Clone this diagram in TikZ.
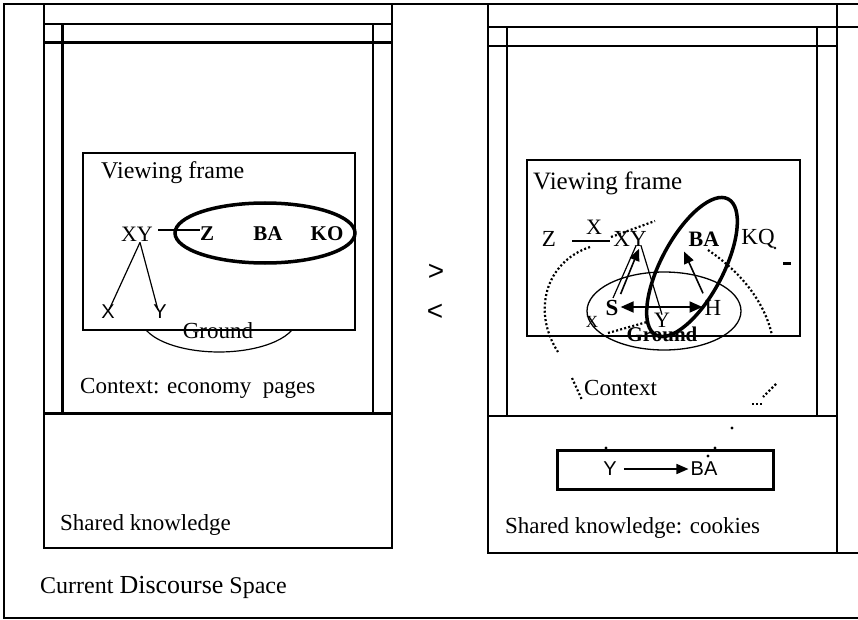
\documentclass[tikz,border=0pt]{standalone}
\usepackage{fontspec}
\setmainfont{Liberation Serif}
\newfontfamily\sansf{Liberation Sans}
\usetikzlibrary{arrows.meta,calc}
\begin{document}
\begin{tikzpicture}[x=1pt,y=-1pt,
  thinl/.style={line width=1.3pt},
  heavy/.style={line width=3pt},
  txt/.style={inner sep=0pt, font=\fontsize{23}{26}\selectfont},
  lab/.style={inner sep=0pt, font=\fontsize{22}{24}\selectfont},
  blab/.style={inner sep=0pt, font=\fontsize{21}{24}\selectfont\bfseries},
  slab/.style={inner sep=0pt, font=\sansf\fontsize{20}{24}\selectfont},
  dots/.style={line width=2.2pt, dash pattern=on 2pt off 2.2pt},
  arr/.style={line width=1.6pt, -{Triangle[length=12pt,width=10pt]}},
  boxn/.style={draw, inner sep=0pt, outer sep=0pt},
]
\useasboundingbox (0,0) rectangle (858,620);
% outer frame
\draw[thinl] (858,4) -- (4,4) -- (4,618) -- (858,618);

% ---------------- left panel
\draw[thinl] (44,4) -- (44,548) -- (392,548) -- (392,4);
\draw[thinl] (44,24) -- (392,24);
\draw[heavy] (44,43) -- (392,43);
\draw[heavy] (62,24) -- (62,413);
\draw[line width=2.5pt] (373,24) -- (373,413);
\draw[heavy] (44,413) -- (392,413);

\node[boxn, line width=1.6pt, minimum width=272pt, minimum height=177pt] (vbox1) at (219,241.5) {};
\node[txt, font=\fontsize{24}{26}\selectfont, anchor=west] (vf1) at (101,173) {Viewing frame};
\node[lab] (xy1) at (137,234) {XY};
\node[blab] (z1) at (207,234) {Z};
\node[blab] (ba1) at (268,234) {BA};
\node[blab] (ko1) at (327,234) {KO};
\draw[line width=3.5pt] (265,233) ellipse [x radius=90, y radius=30];
\draw[line width=1.2pt] ($(xy1.east)+(5,-4)$) -- ($(z1.west)+(0,-4)$);
\node[slab] (x1) at (108,312) {X};
\node[slab] (y1) at (160,312) {Y};
\draw[line width=1.2pt] ($(xy1.south)+(3,1)$) -- ($(x1.north)+(1,5)$);
\draw[line width=1.2pt] ($(xy1.south)+(3,1)$) -- ($(y1.north)+(-2,5)$);
\draw[line width=1.2pt] (292,330) arc[start angle=20.7, end angle=159.3, x radius=78, y radius=34];
\node[txt] (gr1) at (218,331) {Ground};
\node[txt, anchor=west] (ctx1) at (80,388) {Context: economy\ \ pages};
\node[txt, anchor=west] (sk1) at (60,525) {Shared knowledge};
\node[txt, font=\fontsize{24}{26}\selectfont, anchor=west] (cds) at (40,587) {Current {\fontsize{26}{28}\selectfont Discourse} Space};

% ---------------- middle
\node[inner sep=0pt, font=\sansf\fontsize{28}{30}\selectfont] (gt) at (436,272) {>};
\node[inner sep=0pt, font=\sansf\fontsize{28}{30}\selectfont] (lt) at (435,312) {<};

% ---------------- right panel
\draw[thinl] (488,4) -- (488,553) -- (858,553);
\draw[thinl] (837,4) -- (837,553);
\draw[thinl] (488,27) -- (858,27);
\draw[thinl] (488,46) -- (837,46);
\draw[thinl] (507,27) -- (507,416);
\draw[thinl] (817,27) -- (817,416);
\draw[thinl] (488,416) -- (837,416);

\node[boxn, line width=1.6pt, minimum width=273pt, minimum height=176pt] (vbox2) at (663.5,248) {};
\node[txt, font=\fontsize{25}{27}\selectfont, anchor=west] (vf2) at (533,183) {Viewing frame};
\node[lab, font=\fontsize{23}{25}\selectfont] (z2) at (549,239) {Z};
\node[lab] (x2) at (594,227) {X};
\node[lab, font=\fontsize{23}{25}\selectfont] (xy2) at (630,239) {XY};
\node[blab, font=\fontsize{22}{25}\selectfont\bfseries] (ba2) at (704,239) {BA};
\node[lab, font=\fontsize{23}{25}\selectfont] (kq2) at (758,239) {KQ};
\draw[line width=1.2pt] ($(z2.east)+(16,2)$) -- ($(xy2.west)+(-3,2)$);

% ground ellipse
\draw[line width=1.3pt] (664,311) ellipse [x radius=77, y radius=39];
\node[inner sep=0pt, font=\fontsize{23}{25}\selectfont\bfseries] (s2) at (612,308) {S};
\node[lab, font=\fontsize{23}{25}\selectfont] (h2) at (713,308) {H};
\node[lab] (y2) at (662,320) {Y};
\node[lab, font=\fontsize{17}{20}\selectfont] (xs2) at (592,322) {X};
\node[blab] (gr2) at (662,334) {Ground};

% thick tilted ellipse
\draw[line width=3.5pt, rotate around={62:(692,267)}] (692,267) ellipse [x radius=77, y radius=31];

% arrows and lines
\draw[line width=1.8pt, {Triangle[length=13pt,width=11pt]}-{Triangle[length=13pt,width=11pt]}] ($(s2.east)+(2,-1)$) -- ($(h2.west)+(-2,-1)$);
\coordinate (xe) at (613,298);
\draw[line width=1.2pt] ($(xy2.south)+(6,-1)$) -- (xe);
\draw[arr] ($(s2.north east)+(2,-6)$) -- ($(xy2.south)+(9,2)$);
\draw[line width=1.2pt] ($(xy2.south)+(11,-1)$) -- ($(y2.north)+(0,2)$);
\draw[arr] ($(h2.north)+(-10,-7)$) -- ($(ba2.south)+(-20,5)$);

% dotted curves
\draw[dots] (590,247) .. controls (545,262) and (532,312) .. (558,352);
\draw[dots] (708,250) .. controls (745,275) and (765,305) .. (772,335);
\draw[dots] (611,237) -- (655,221);
\draw[dots] (608,333) -- (647,322);
\draw[dots] (572,378) -- (582,400);
\draw[dots] (776,384) -- (763,397);
\draw[dots] (752,404) -- (764,404);
\draw[line width=3pt] (783,263) -- (791,263);
\fill (732,428) circle (1.6);
\fill (606,448) circle (1.6);
\fill (715,448) circle (1.6);
\fill (708,456) circle (1.6);
\fill (775,248) circle (1.3);

\node[txt, anchor=west] (ctx2) at (584,388) {Context};

% shared knowledge box
\node[boxn, line width=3pt, minimum width=216pt, minimum height=39pt] (skbox) at (665,469.5) {};
\node[slab] (yb) at (610,469) {Y};
\node[slab] (bab) at (704,469) {BA};
\draw[arr] ($(yb.east)+(7,0)$) -- ($(bab.west)+(-2,0)$);
\node[txt, anchor=west] (sk2) at (505,528) {Shared knowledge: cookies};
\end{tikzpicture}
\end{document}
